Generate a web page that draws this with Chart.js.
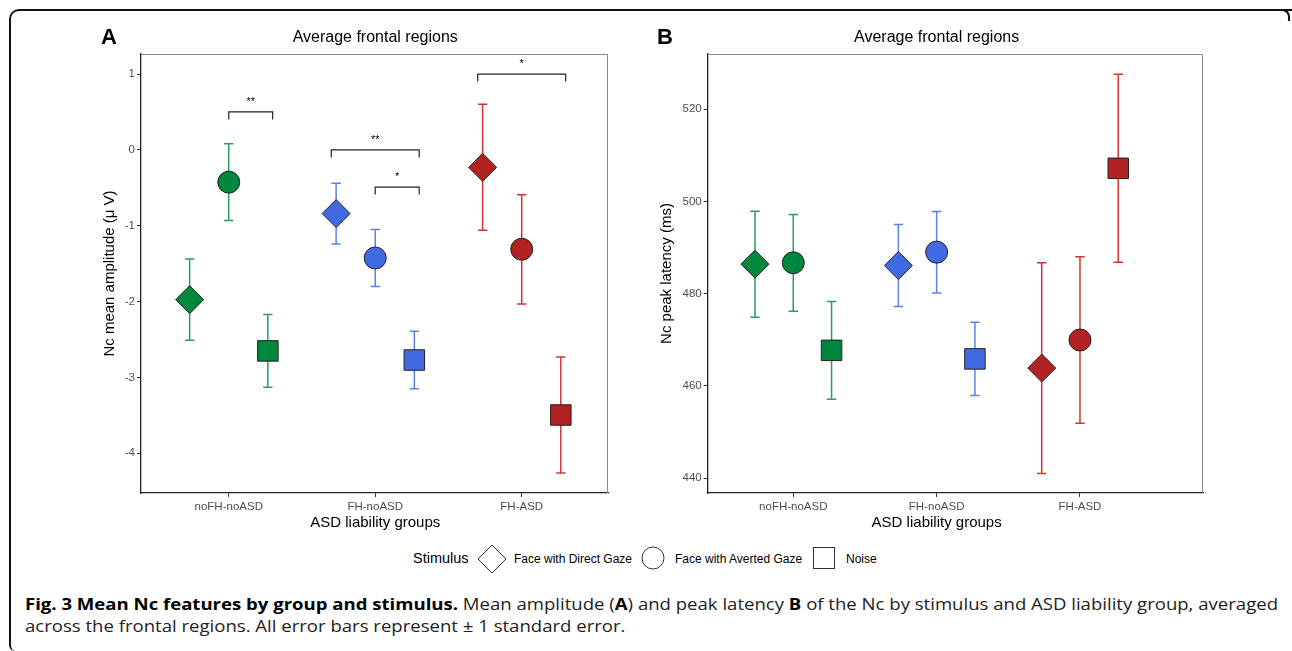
<!DOCTYPE html>
<html>
<head>
<meta charset="utf-8">
<script src="https://cdn.jsdelivr.net/npm/chart.js@4.4.0/dist/chart.umd.min.js"></script>
<style>
  body { margin: 0; background: #fff; font-family: 'Liberation Sans', Arial, sans-serif; }
  #page { position: relative; width: 1292px; height: 651px; overflow: hidden; background: #fff; }
  #frame { position: absolute; left: 9px; top: 9px; width: 1300px; height: 640px;
           border-top: 2px solid #111; border-left: 2px solid #111; border-top-left-radius: 10px; border-bottom-left-radius: 6px; }
  #corner { position: absolute; left: 1280px; top: 9px; width: 8px; height: 10px;
            border-top: 2px solid #111; border-right: 2px solid #111; border-top-right-radius: 8px; }
  canvas { position: absolute; top: 0; }
  .lg { position: absolute; white-space: nowrap; line-height: 20px; }
  .lg svg { display: block; }
  .cap { position: absolute; left: 25px; white-space: nowrap; font-family: 'Open Sans', 'Noto Sans', sans-serif;
         font-size: 16.5px; line-height: 22px; color: #222; transform-origin: 0 50%; }
  .cap b { color: #000; }
</style>
</head>
<body>
<div id="page">
  <div id="frame"></div>
  <div id="corner"></div>
  <canvas id="chartA" width="640" height="540" style="left:0"></canvas>
  <canvas id="chartB" width="652" height="540" style="left:640px"></canvas>

  <div class="lg" style="left:413px;top:548px;font-size:14.5px;">Stimulus</div>
  <div class="lg" style="left:477px;top:544px;"><svg width="30" height="30"><polygon points="15,1 29,15 15,29 1,15" fill="#fff" stroke="#333" stroke-width="1"/></svg></div>
  <div class="lg" style="left:514px;top:549px;font-size:12px;">Face with Direct Gaze</div>
  <div class="lg" style="left:641px;top:546px;"><svg width="24" height="24"><circle cx="12" cy="12" r="11" fill="#fff" stroke="#333" stroke-width="1"/></svg></div>
  <div class="lg" style="left:675px;top:549px;font-size:12px;">Face with Averted Gaze</div>
  <div class="lg" style="left:812px;top:546px;"><svg width="24" height="24"><rect x="1.5" y="1.5" width="21" height="21" fill="#fff" stroke="#333" stroke-width="1"/></svg></div>
  <div class="lg" style="left:846px;top:549px;font-size:12px;">Noise</div>

  <div class="cap" id="cap1" style="top:593px;"><b>Fig. 3 Mean Nc features by group and stimulus.</b> Mean amplitude (<b>A</b>) and peak latency <b>B</b> of the Nc by stimulus and ASD liability group, averaged</div>
  <div class="cap" id="cap2" style="top:615px;">across the frontal regions. All error bars represent ± 1 standard error.</div>
</div>

<script>
// categories
const groups = ['noFH-noASD', 'FH-noASD', 'FH-ASD'];
const stimuli = ['Face with Direct Gaze', 'Face with Averted Gaze', 'Noise'];

// panel A: Nc mean amplitude (uV), mean and standard error per group
const ampDirect = [-1.975, -0.84, -0.23];
const ampDirectSE = [0.535, 0.40, 0.83];
const ampAverted = [-0.425, -1.425, -1.31];
const ampAvertedSE = [0.505, 0.375, 0.72];
const ampNoise = [-2.65, -2.77, -3.495];
const ampNoiseSE = [0.48, 0.38, 0.765];
const ampTicks = [1, 0, -1, -2, -3, -4];

// panel B: Nc peak latency (ms)
const latDirect = [486.4, 486.1, 463.85];
const latDirectSE = [11.5, 8.9, 22.85];
const latAverted = [486.7, 489.0, 469.95];
const latAvertedSE = [10.5, 8.85, 18.05];
const latNoise = [467.7, 465.85, 507.2];
const latNoiseSE = [10.6, 7.95, 20.4];
const latTicks = [440, 460, 480, 500, 520];

// significance brackets for panel A (x from, x to, y level, label)
const bracketFrom = [1.0, 1.7, 2.0, 2.7];
const bracketTo = [1.3, 2.3, 2.3, 3.3];
const bracketY = [0.5, 0.0, -0.49, 1.0];
const bracketLabel = ['**', '**', '*', '*'];

const fillColors = ['#00873e', '#4169e1', '#b22222'];
const barColors = ['#2b9e5c', '#5b80ea', '#cf3434'];
const shapes = ['rectRot', 'circle', 'rect'];
const radii = [14, 11, 14.5];
const dodge = [-0.267, 0, 0.267];
const FONT = "'Liberation Sans', Arial, sans-serif";

function buildDatasets(means, ses) {
  return stimuli.map((s, k) => ({
    label: s,
    data: groups.map((g, i) => ({ x: i + 1 + dodge[k], y: means[k][i], g: i })),
    se: ses[k],
    pointStyle: shapes[k],
    pointRadius: radii[k],
    pointHoverRadius: radii[k],
    pointBackgroundColor: fillColors,
    pointBorderColor: '#222',
    pointBorderWidth: 1,
    showLine: false
  }));
}

const panelPlugin = {
  id: 'panel',
  beforeDatasetsDraw(chart) {
    const { ctx, chartArea: a, scales: { x, y } } = chart;
    ctx.save();
    // light frame on top and right
    ctx.strokeStyle = '#8c8c8c';
    ctx.lineWidth = 1;
    ctx.beginPath();
    ctx.moveTo(a.left, a.top + 0.5);
    ctx.lineTo(a.right - 0.5, a.top + 0.5);
    ctx.lineTo(a.right - 0.5, a.bottom);
    ctx.stroke();
    // error bars
    ctx.lineWidth = 1.5;
    chart.data.datasets.forEach(ds => {
      ds.data.forEach((p, i) => {
        const px = x.getPixelForValue(p.x);
        const top = y.getPixelForValue(p.y + ds.se[i]);
        const bot = y.getPixelForValue(p.y - ds.se[i]);
        ctx.strokeStyle = barColors[p.g];
        ctx.beginPath();
        ctx.moveTo(px, top); ctx.lineTo(px, bot);
        ctx.moveTo(px - 4.7, top); ctx.lineTo(px + 4.7, top);
        ctx.moveTo(px - 4.7, bot); ctx.lineTo(px + 4.7, bot);
        ctx.stroke();
      });
    });
    ctx.restore();
  },
  afterDraw(chart, args, opts) {
    const { ctx, chartArea: a, scales: { x, y } } = chart;
    const mid = x.getPixelForValue(2);
    ctx.save();
    ctx.fillStyle = '#000';
    ctx.textBaseline = 'middle';
    ctx.font = 'bold 22px ' + FONT;
    ctx.textAlign = 'left';
    ctx.fillText(opts.letter, opts.letterX, 38);
    ctx.font = '16px ' + FONT;
    ctx.textAlign = 'center';
    ctx.fillText(opts.title, mid, 38);
    ctx.font = '15px ' + FONT;
    ctx.fillText(opts.xTitle, mid, a.bottom + 30);
    // brackets
    const br = opts.brackets;
    if (br) {
      ctx.strokeStyle = '#222';
      ctx.lineWidth = 1.2;
      ctx.font = '11px ' + FONT;
      br.from.forEach((f, i) => {
        const x1 = x.getPixelForValue(f), x2 = x.getPixelForValue(br.to[i]);
        const yy = y.getPixelForValue(br.y[i]);
        ctx.beginPath();
        ctx.moveTo(x1, yy + 7.5); ctx.lineTo(x1, yy); ctx.lineTo(x2, yy); ctx.lineTo(x2, yy + 7.5);
        ctx.stroke();
        ctx.fillText(br.label[i], (x1 + x2) / 2, yy - 10);
      });
    }
    ctx.restore();
  }
};

function makeChart(id, datasets, cfg) {
  return new Chart(document.getElementById(id), {
    type: 'scatter',
    data: { datasets },
    plugins: [panelPlugin],
    options: {
      responsive: false,
      animation: false,
      devicePixelRatio: 1,
      layout: { padding: cfg.padding },
      plugins: {
        legend: { display: false },
        tooltip: { enabled: false },
        panel: cfg.panel
      },
      scales: {
        x: {
          type: 'linear',
          min: cfg.xMin, max: cfg.xMax,
          afterBuildTicks: s => { s.ticks = groups.map((g, i) => ({ value: i + 1 })); },
          afterFit: s => { s.height = 47; },
          ticks: {
            callback: v => groups[v - 1],
            color: '#4d4d4d',
            font: { family: FONT, size: 11.5 },
            padding: 3,
            maxRotation: 0
          },
          grid: { drawOnChartArea: false, tickLength: 4, color: '#333' },
          border: { color: '#222', width: 1.3 }
        },
        y: {
          min: cfg.yMin, max: cfg.yMax,
          afterBuildTicks: s => { s.ticks = cfg.yTicks.map(v => ({ value: v })); },
          afterFit: s => { s.width = cfg.yWidth; },
          ticks: {
            color: '#4d4d4d',
            font: { family: FONT, size: 11.5 },
            padding: 2
          },
          grid: { drawOnChartArea: false, tickLength: 4, color: '#333' },
          border: { color: '#222', width: 1.3 },
          title: {
            display: true,
            text: cfg.yTitle,
            color: '#000',
            font: { family: FONT, size: 15 },
            padding: { top: cfg.yTitlePad, bottom: 0 }
          }
        }
      }
    }
  });
}

makeChart('chartA',
  buildDatasets([ampDirect, ampAverted, ampNoise], [ampDirectSE, ampAvertedSE, ampNoiseSE]),
  {
    padding: { left: 90, top: 54, right: 32, bottom: 0 },
    xMin: 0.401, xMax: 3.589,
    yMin: -4.523, yMax: 1.264, yTicks: ampTicks,
    yWidth: 51, yTitlePad: 11,
    yTitle: 'Nc mean amplitude (\u03bc V)',
    panel: {
      letter: 'A', letterX: 101,
      title: 'Average frontal regions',
      xTitle: 'ASD liability groups',
      brackets: { from: bracketFrom, to: bracketTo, y: bracketY, label: bracketLabel }
    }
  });

makeChart('chartB',
  buildDatasets([latDirect, latAverted, latNoise], [latDirectSE, latAvertedSE, latNoiseSE]),
  {
    padding: { left: 16, top: 54, right: 89, bottom: 0 },
    xMin: 0.403, xMax: 3.858,
    yMin: 436.75, yMax: 532.0, yTicks: latTicks,
    yWidth: 51.7, yTitlePad: 2,
    yTitle: 'Nc peak latency (ms)',
    panel: {
      letter: 'B', letterX: 17,
      title: 'Average frontal regions',
      xTitle: 'ASD liability groups'
    }
  });

// fit caption lines to the width of the original typesetting
const cap1 = document.getElementById('cap1');
const cap2 = document.getElementById('cap2');
const k = 1253 / cap1.getBoundingClientRect().width;
cap1.style.transform = 'scaleX(' + k + ')';
cap2.style.transform = 'scaleX(' + k + ')';
</script>
</body>
</html>
